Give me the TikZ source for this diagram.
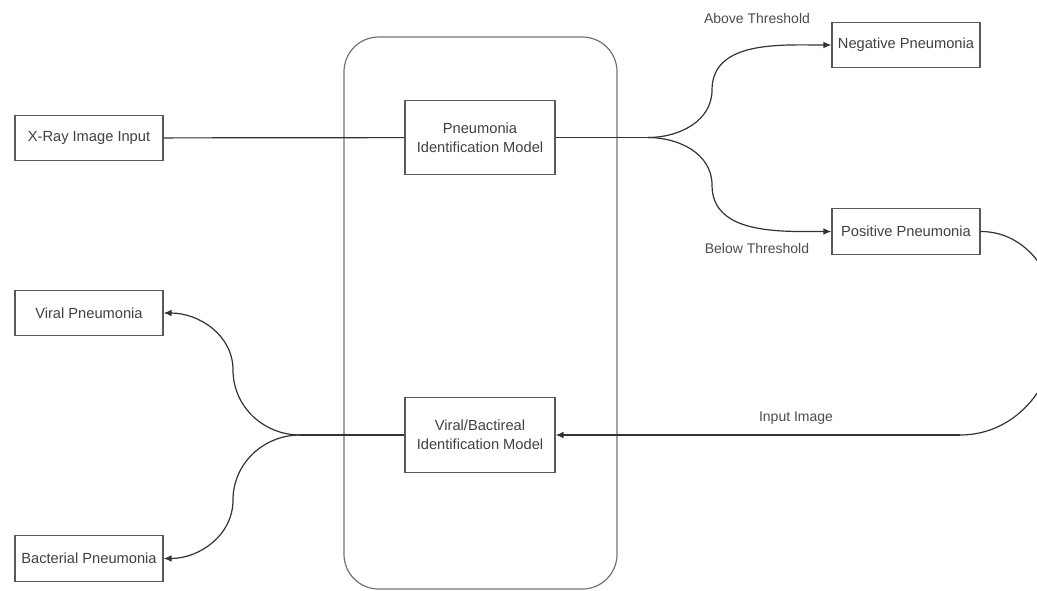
\documentclass[tikz,border=0pt]{standalone}
\usepackage{fontspec}
\setmainfont{Liberation Sans}
\usetikzlibrary{arrows.meta}

\tikzset{
  box/.style={draw=black!65, line width=0.9pt, minimum width=111pt, minimum height=34pt,
    inner sep=2pt, text=black!75, font=\fontsize{11}{14}\selectfont},
  model/.style={box, minimum width=112.5pt, minimum height=56pt, align=center},
  link/.style={draw=black!80, line width=0.9pt},
  tip/.style={link, -{Latex[length=6pt,width=5pt]}},
  lbl/.style={text=black!70, font=\fontsize{10.5}{12}\selectfont}
}

\begin{document}
\begin{tikzpicture}[x=0.75pt, y=-0.75pt]

        \useasboundingbox (0,0) rectangle (1037,590);

        \node[draw=black!55, line width=0.9pt, rounded corners=26pt,
              minimum width=204.75pt, minimum height=414pt] (stage) at (480.5,313) {};

        \node[box] (xray) at (89,138) {X-Ray Image Input};
        \node[model] (pim) at (480,137.5) {Pneumonia\\Identification Model};
        \node[box] (neg) at (906,45) {Negative Pneumonia};
        \node[box] (pos) at (906,231.5) {Positive Pneumonia};
        \node[model] (vbm) at (480,435) {Viral/Bactireal\\Identification Model};
        \node[box] (viral) at (89,313) {Viral Pneumonia};
        \node[box] (bact) at (89,558.5) {Bacterial Pneumonia};

        \coordinate (fork1) at (648,137.5);
        \coordinate (fork2) at (300,435);
        \coordinate (back) at (960,435);

        \draw[link] (xray) -- (pim);
        \draw[link] (pim) -- (fork1);
        \draw[tip] (fork1) to[out=0, in=-90] (712,90) to[out=90, in=180] (neg.west);
        \draw[tip] (fork1) to[out=0, in=90] (712,185) to[out=-90, in=180] (pos.west);

        \draw[link] (pos.east) to[out=0, in=90] (1058,325) to[out=-90, in=0] (back);
        \draw[tip] (back) -- (vbm.east);

        \draw[link] (vbm) -- (fork2);
        \draw[tip] (fork2) to[out=180, in=-90] (233,370) to[out=90, in=0] (viral.east);
        \draw[tip] (fork2) to[out=180, in=90] (233,500) to[out=-90, in=0] (bact.east);

        \node[lbl] (above) at (757,18) {Above Threshold};
        \node[lbl] (below) at (757,248) {Below Threshold};
        \node[lbl] (input) at (796,418) {Input Image};

      \end{tikzpicture}
\end{document}
